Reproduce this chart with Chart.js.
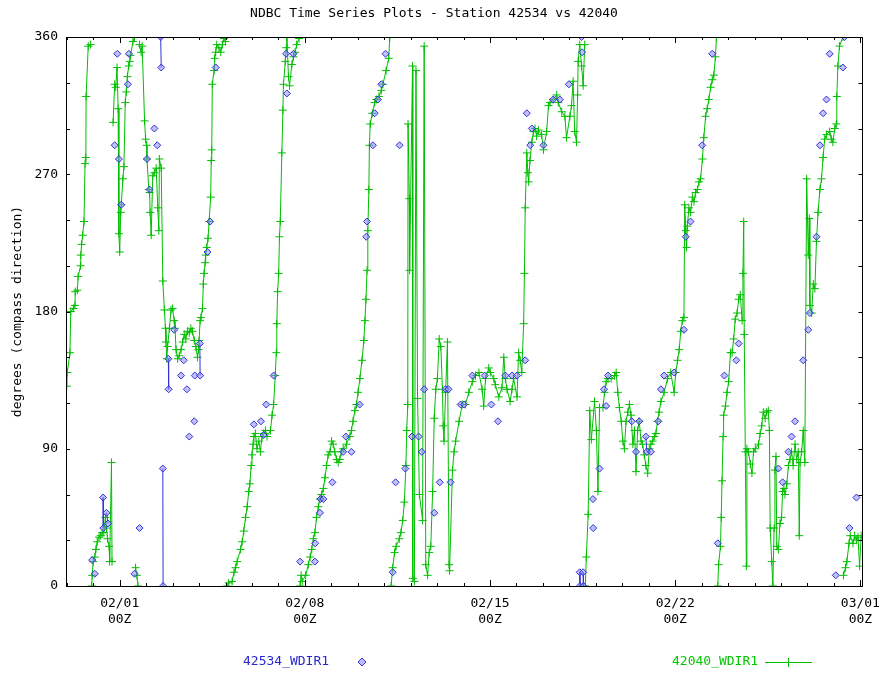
<!DOCTYPE html>
<html>
<head>
<meta charset="utf-8">
<title>NDBC Time Series Plots - Station 42534 vs 42040</title>
<script src="https://cdn.jsdelivr.net/npm/chart.js@4.4.1/dist/chart.umd.min.js"></script>
<style>
  html, body { margin: 0; padding: 0; background: #fff; }
  #wrap { position: relative; width: 890px; height: 676px; }
  canvas { display: block; }
  .leg { position: absolute; top: 653px; height: 18px; line-height: 18px;
         font: 13px "DejaVu Sans Mono", monospace; white-space: nowrap; }
  .leg svg { position: absolute; top: 0; }
</style>
</head>
<body>
<div id="wrap">
  <canvas id="chart" width="890" height="676"></canvas>
  <div class="leg" style="left:243px;color:rgb(40,40,210)">42534_WDIR1<svg style="left:113px" width="12" height="18"><path d="M6 5 L10 9 L6 13 L2 9 Z" fill="rgba(140,140,250,0.6)" stroke="rgb(60,60,220)" stroke-width="1"/></svg></div>
  <div class="leg" style="left:672px;color:rgb(0,200,0)">42040_WDIR1<svg style="left:91px" width="52" height="18"><path d="M2 9.5 H49 M25.5 5 V14" stroke="rgb(0,190,0)" stroke-width="1"/></svg></div>
</div>
<script>
// time axis: days since 02/01 00Z
var xMin = -2.03;
var xMax = 28.08;
var xLabelDays = [0, 7, 14, 21, 28];
var xLabelDates = ["02/01", "02/08", "02/15", "02/22", "03/01"];
var yLabels = [0, 90, 180, 270, 360];

// station 42040 (green); null = gap in the record
var greenDays = [
  -2.00,-1.98,-1.88,-1.85,-1.75,-1.69,-1.68,-1.60,-1.57,-1.48,-1.47,-1.44,-1.40,-1.35,-1.31,-1.28,-1.27,-1.19,-1.10,
  -1.08,-1.06,-1.04,-1.00,-0.94,-0.90,-0.85,-0.78,-0.72,-0.66,-0.60,-0.54,-0.50,-0.46,-0.40,-0.38,-0.31,-0.29,
  -0.27,-0.25,-0.19,-0.15,-0.10,-0.06,-0.03,0.00,0.04,0.06,0.12,0.16,0.21,0.25,0.29,0.34,0.38,0.41,0.50,0.56,
  0.58,0.60,0.65,0.69,0.72,0.75,0.81,0.85,
  0.94,0.98,1.02,1.03,1.10,1.13,1.15,1.19,1.25,1.31,1.38,1.44,1.48,1.50,1.57,1.63,1.69,1.73,1.75,1.78,
  1.81,1.88,1.94,2.00,2.06,2.09,2.13,2.19,2.25,2.32,2.38,2.44,2.50,2.56,2.63,2.69,2.75,2.82,2.88,2.94,2.98,
  3.00,3.04,3.07,3.13,3.16,3.19,3.23,3.25,3.29,3.34,3.38,3.44,3.46,3.48,3.50,3.57,3.59,3.63,3.67,3.75,3.82,3.88,3.94,4.00,
  4.02,4.05,4.12,4.25,4.32,4.38,4.44,4.57,4.63,4.69,4.76,4.82,4.88,4.92,4.97,5.00,5.04,5.07,5.13,5.19,5.26,5.32,5.38,5.44,5.51,5.57,
  5.70,5.76,5.82,5.88,5.92,5.94,5.97,6.01,6.04,6.07,6.13,6.17,6.19,6.26,6.30,6.32,6.38,6.42,6.51,6.57,6.63,6.69,6.78,
  6.80,6.82,6.86,6.90,7.03,7.13,7.20,7.26,7.32,7.38,7.44,7.51,7.57,7.63,7.70,7.76,7.82,7.88,7.95,8.01,8.07,8.13,8.20,8.26,8.32,8.38,
  8.45,8.57,8.70,8.76,8.82,8.89,8.95,9.01,9.08,9.16,9.23,9.27,9.31,9.35,9.38,9.42,9.44,9.47,9.55,9.64,9.70,9.80,9.89,9.95,10.07,10.17,10.21,
  10.23,10.26,10.32,10.39,10.45,10.57,10.63,10.70,10.76,10.82,10.85,10.89,10.90,10.95,10.96,11.07,11.08,11.14,11.20,11.26,11.33,11.45,11.51,
  11.57,11.64,11.70,11.76,11.83,11.89,11.95,12.01,12.08,12.14,12.20,12.23,12.26,12.32,12.39,12.45,12.47,12.58,12.64,12.70,12.83,12.95,13.07,
  13.20,13.33,13.45,13.58,13.70,13.76,13.83,13.95,14.01,14.14,14.20,14.33,14.45,14.52,14.58,14.64,14.76,14.83,14.89,15.02,15.08,15.14,15.20,
  15.27,15.30,15.33,15.39,15.43,15.46,15.51,15.58,15.64,15.70,15.76,15.83,15.95,16.02,16.14,16.21,16.27,16.39,16.52,16.58,16.71,16.83,16.89,
  17.02,17.08,17.14,17.20,17.27,17.31,17.33,17.39,17.46,17.52,17.58,
  17.59,17.60,17.64,17.71,17.77,17.83,17.95,18.02,18.08,18.14,18.27,18.33,18.39,18.46,18.58,18.71,18.77,18.83,18.89,18.96,19.02,19.08,19.14,
  19.21,19.27,19.33,19.40,19.46,19.52,19.58,19.64,19.71,19.77,19.83,19.89,19.96,20.02,20.08,20.15,20.21,20.27,20.33,20.39,20.46,20.58,
  20.71,20.83,20.96,21.02,21.09,21.15,21.21,21.27,21.33,21.36,21.40,21.43,21.46,21.52,21.58,21.65,21.71,21.77,21.84,21.90,21.96,22.03,
  22.08,22.15,22.21,22.27,22.34,22.40,22.46,22.52,22.56,
  22.58,22.61,22.64,22.71,22.74,22.77,22.81,22.83,22.90,22.96,23.02,23.09,23.15,23.21,23.27,23.34,23.40,23.46,23.53,23.56,23.59,23.61,23.65,
  23.69,23.71,23.77,23.84,23.90,23.96,24.03,24.15,24.21,24.27,24.33,
  24.40,24.46,24.52,24.56,24.59,24.65,24.69,24.74,24.77,24.81,24.84,24.90,24.96,25.02,25.06,25.11,25.15,25.22,25.28,25.34,25.40,25.46,
  25.53,25.59,25.65,25.69,25.72,25.78,25.84,25.90,25.97,26.03,26.07,26.09,26.16,26.22,26.28,26.34,26.40,26.47,26.53,26.59,26.65,26.72,
  26.84,26.90,26.96,27.03,27.09,27.11,27.15,27.21,27.34,
  27.35,27.36,27.44,27.49,27.57,27.62,27.72,27.78,27.85,27.91,27.97,28.03
];
var greenDeg = [
  131,140,153,180,182,184,193,194,203,210,217,224,230,239,277,281,321,354,355,
  null,0,7,16,19,24,29,32,33,35,35,45,38,31,26,16,81,16,
  null,304,329,327,340,313,231,219,245,250,267,275,317,324,334,341,344,348,357,360,
  null,12,7,0,null,355,350,354,
  305,293,289,280,260,258,245,230,269,271,274,248,233,280,274,200,181,169,160,149,
  157,169,181,182,174,169,155,149,151,155,160,165,162,167,166,169,167,161,157,150,155,
  161,174,176,182,198,205,212,217,222,228,239,255,279,286,329,338,346,350,355,353,350,355,359,357,
  null,0,2,3,9,12,16,24,29,36,45,52,62,67,79,86,93,98,100,90,95,88,98,100,102,98,
  102,112,119,138,153,172,193,205,229,239,284,312,329,344,353,360,334,328,342,347,350,355,359,
  null,0,7,3,7,14,19,24,31,35,45,52,57,60,64,71,79,86,88,95,93,88,83,81,83,88,
  90,93,98,102,108,115,119,127,136,148,161,174,188,207,233,260,289,303,310,317,319,321,325,329,338,346,360,
  null,0,12,22,26,31,35,43,55,79,102,119,303,254,207,341,5,3,338,123,60,43,354,
  14,7,22,26,62,110,129,136,162,157,129,105,95,127,160,14,10,76,88,95,108,119,119,
  127,134,138,140,129,118,136,143,140,136,132,124,130,150,136,129,121,129,136,124,153,148,140,
  172,205,248,284,271,265,279,291,298,300,295,299,296,286,298,315,317,319,322,317,311,308,294,
  308,315,331,298,291,322,344,355,341,328,355,
  null,0,19,47,115,96,121,102,62,117,117,127,134,136,136,138,140,127,117,108,95,90,108,
  114,119,112,93,102,75,102,108,95,93,86,79,74,90,93,95,98,100,108,114,121,127,
  136,140,127,140,148,155,167,174,176,250,233,222,236,248,245,255,252,258,260,265,267,280,
  294,308,313,319,327,332,335,347,360,
  null,0,14,26,45,69,98,112,118,127,134,153,153,162,175,179,188,191,174,205,239,165,88,
  13,90,88,80,74,88,90,93,100,105,114,
  110,114,115,102,38,16,0,38,76,85,26,24,41,45,62,64,60,67,79,83,88,79,
  93,83,88,33,81,88,102,81,267,217,241,184,179,198,195,226,245,260,267,281,293,296,
  298,293,291,300,303,321,341,354,360,
  null,7,12,16,28,33,28,33,30,32,13,33
];

// station 42534 (blue)
var blueDays = [
  -1.04,-0.94,-0.63,-0.62,-0.50,-0.44,-0.19,-0.09,-0.03,0.06,0.31,0.35,0.56,0.75,1.03,1.13,1.31,1.42,
  1.55,1.57,1.63,1.64,1.84,1.85,2.06,2.32,2.42,2.54,2.63,2.82,2.84,3.03,3.04,3.32,3.42,3.63,
  5.07,5.34,5.44,5.54,5.82,6.29,6.32,6.57,6.82,7.38,7.39,7.57,7.59,7.70,8.04,8.45,8.55,8.76,
  9.07,9.32,9.35,9.57,9.64,9.76,9.89,10.05,10.32,10.43,10.58,10.80,11.05,11.30,11.42,11.51,
  11.89,12.10,12.32,12.43,12.51,12.89,13.02,13.33,13.80,14.05,14.30,14.58,14.83,15.02,15.33,
  15.39,15.52,15.58,16.02,16.39,16.64,16.98,17.39,17.40,17.46,17.48,17.52,17.53,17.89,17.90,
  18.14,18.31,18.39,18.46,19.36,19.52,19.64,19.89,19.93,20.08,20.36,20.46,20.58,20.96,21.33,
  21.40,21.58,22.02,22.40,22.61,22.86,23.31,23.40,24.90,25.06,25.28,25.40,25.53,25.84,26.03,
  26.09,26.34,26.47,26.59,26.72,26.84,27.07,27.34,27.40,27.59,27.85
];
var blueDeg = [
  17,8,58,38,48,41,289,349,280,250,329,349,8,38,280,260,300,289,
  360,340,77,0,149,129,168,138,148,129,98,108,138,159,138,219,239,340,
  106,108,99,119,138,349,323,349,16,16,28,48,57,57,68,88,98,88,
  119,229,239,289,310,319,329,349,9,68,289,77,98,98,88,129,
  48,68,129,129,68,119,119,138,138,119,108,138,138,138,148,
  310,289,300,289,319,319,329,9,0,360,350,9,0,57,38,
  77,129,118,138,108,88,108,98,88,88,108,129,138,140,168,
  229,239,289,349,28,138,148,159,77,68,88,98,108,148,168,
  179,229,289,310,319,349,7,340,360,38,58
];
// blue readings joined by a line to the following reading
var blueLinkFrom = [-0.63, -0.50, 1.55, 1.63, 1.84, 3.03, 17.39, 17.52, 19.89, 19.93];

var GREEN = "rgb(0,190,0)";
var BLUE = "rgb(50,50,215)";
var FONT = "'DejaVu Sans Mono', monospace";

function pairs(xs, ys) {
  return xs.map(function (x, i) { return { x: x, y: ys[i] }; });
}

function blueLinks() {
  var out = [];
  blueLinkFrom.forEach(function (d) {
    var i = blueDays.indexOf(d);
    if (i < 0 || i + 1 >= blueDays.length) return;
    out.push({ x: blueDays[i], y: blueDeg[i] });
    out.push({ x: blueDays[i + 1], y: blueDeg[i + 1] });
    out.push({ x: blueDays[i + 1], y: null });
  });
  return out;
}

// gnuplot style frame with inward ticks on all four sides
var framePlugin = {
  id: "frame",
  afterDraw: function (chart) {
    var ctx = chart.ctx, a = chart.chartArea;
    var xs = chart.scales.x, ys = chart.scales.y;
    ctx.save();
    ctx.strokeStyle = "#000";
    ctx.lineWidth = 1;
    ctx.beginPath();
    for (var d = Math.ceil(xMin); d <= xMax; d++) {
      var px = Math.round(xs.getPixelForValue(d)) + 0.5;
      var len = d % 7 === 0 ? 6 : 3;
      ctx.moveTo(px, a.bottom); ctx.lineTo(px, a.bottom - len);
      ctx.moveTo(px, a.top); ctx.lineTo(px, a.top + len);
    }
    for (var v = 30; v < 360; v += 30) {
      var py = Math.round(ys.getPixelForValue(v)) + 0.5;
      ctx.moveTo(a.left, py); ctx.lineTo(a.left + 4, py);
      ctx.moveTo(a.right, py); ctx.lineTo(a.right - 4, py);
    }
    ctx.stroke();
    ctx.strokeRect(Math.round(a.left) + 0.5, Math.round(a.top) + 0.5,
      Math.round(a.right - a.left), Math.round(a.bottom - a.top));
    ctx.restore();
  }
};

new Chart(document.getElementById("chart").getContext("2d"), {
  type: "scatter",
  data: {
    datasets: [
      {
        label: "42534_WDIR1",
        data: pairs(blueDays, blueDeg),
        showLine: false,
        pointStyle: "rectRot",
        pointRadius: 3.5,
        pointBackgroundColor: "rgba(140,140,250,0.55)",
        pointBorderColor: BLUE,
        pointBorderWidth: 1,
        order: 0
      },
      {
        label: "42534 links",
        data: blueLinks(),
        showLine: true,
        spanGaps: false,
        borderColor: BLUE,
        borderWidth: 1,
        pointRadius: 0,
        order: 1
      },
      {
        label: "42040_WDIR1",
        data: pairs(greenDays, greenDeg),
        showLine: true,
        spanGaps: false,
        borderColor: GREEN,
        borderWidth: 1,
        pointStyle: "cross",
        pointRadius: 4,
        pointBorderColor: GREEN,
        pointBorderWidth: 1,
        order: 2
      }
    ]
  },
  options: {
    responsive: false,
    animation: false,
    devicePixelRatio: 1,
    layout: { padding: { top: 0, right: 22, bottom: 40, left: 0 } },
    plugins: {
      legend: { display: false },
      tooltip: { enabled: false },
      title: {
        display: true,
        text: "NDBC Time Series Plots - Station 42534 vs 42040",
        color: "#000",
        font: { family: FONT, size: 13, weight: "normal" },
        padding: { top: 6, bottom: 15.4 }
      }
    },
    scales: {
      x: {
        type: "linear",
        min: xMin,
        max: xMax,
        grid: { display: false, drawTicks: false },
        border: { display: false },
        afterFit: function (s) { s.height = 50; },
        ticks: {
          stepSize: 1,
          includeBounds: false,
          autoSkip: false,
          maxRotation: 0,
          minRotation: 0,
          padding: 10,
          color: "#000",
          font: { family: FONT, size: 13 },
          callback: function (v) {
            var i = xLabelDays.indexOf(Math.round(v * 1000) / 1000);
            return i < 0 ? "" : [xLabelDates[i], "00Z"];
          }
        }
      },
      y: {
        min: 0,
        max: 360,
        grid: { display: false, drawTicks: false },
        border: { display: false },
        afterFit: function (s) { s.width = 66; },
        title: {
          display: true,
          text: "degrees (compass direction)",
          color: "#000",
          font: { family: FONT, size: 13 },
          padding: { top: 10, bottom: 0 }
        },
        ticks: {
          stepSize: 30,
          autoSkip: false,
          padding: 8,
          color: "#000",
          font: { family: FONT, size: 13 },
          callback: function (v) {
            return yLabels.indexOf(v) < 0 ? "" : String(v);
          }
        }
      }
    }
  },
  plugins: [framePlugin]
});
</script>
</body>
</html>
